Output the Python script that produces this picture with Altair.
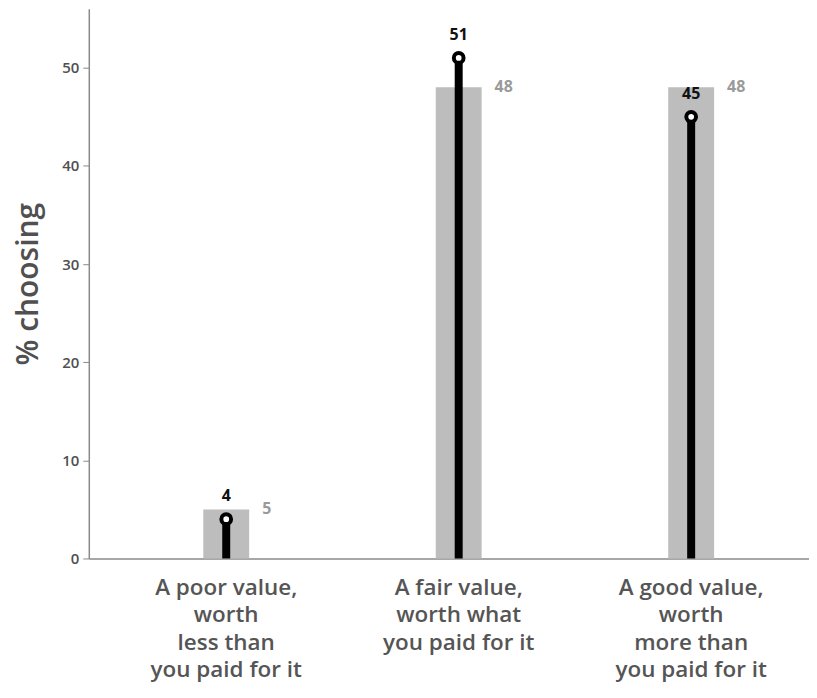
import altair as alt
import pandas as pd

categories = [
    "A poor value,|worth|less than|you paid for it",
    "A fair value,|worth what|you paid for it",
    "A good value,|worth|more than|you paid for it",
]
current = [4, 51, 45]
comparison = [5, 48, 48]

df = pd.DataFrame({"cat": categories, "cur": current, "cmp": comparison})

FONT = "Open Sans"

x = alt.X(
    "cat:N",
    sort=categories,
    scale=alt.Scale(paddingInner=0, paddingOuter=0.049, align=0.93),
    axis=alt.Axis(
        title=None,
        labelAngle=0,
        labelExpr="split(datum.value, '|')",
        labelFontSize=22.5,
        labelFontWeight=600,
        labelColor="#555555",
        labelLineHeight=27.5,
        labelPadding=18,
        labelBaseline="top",
        ticks=False,
        domainColor="#8a8a8a",
        domainWidth=1.5,
    ),
)

yscale = alt.Scale(domain=[0, 56], nice=False)
yaxis = alt.Axis(
    title="% choosing",
    values=[0, 10, 20, 30, 40, 50],
    grid=False,
    titleFontSize=30,
    titleFontWeight=600,
    titleColor="#505050",
    titlePadding=18,
    labelFontSize=15,
    labelFontWeight=600,
    labelColor="#505050",
    labelPadding=4,
    tickSize=6,
    tickColor="#8a8a8a",
    domainColor="#8a8a8a",
    domainWidth=1.5,
)

base = alt.Chart(df)

bars = base.mark_bar(size=46, color="#bdbdbd").encode(
    x=x, y=alt.Y("cmp:Q", scale=yscale, axis=yaxis)
)
rules = base.mark_rule(strokeWidth=8, color="black").encode(
    x=x, y=alt.Y("cur:Q", scale=yscale), y2=alt.datum(0)
)
circles = base.mark_circle(
    size=95, fill="white", stroke="black", strokeWidth=4, opacity=1
).encode(x=x, y=alt.Y("cur:Q", scale=yscale))
cur_labels = base.mark_text(
    fontSize=16, fontWeight="bold", color="#111111", dy=-23, font=FONT
).encode(x=x, y=alt.Y("cur:Q", scale=yscale), text="cur:Q")
cmp_labels = base.mark_text(
    fontSize=16, fontWeight="bold", color="#9a9a9a", align="left", dx=36,
    baseline="middle", font=FONT
).encode(x=x, y=alt.Y("cmp:Q", scale=yscale), text="cmp:Q")

chart = (
    alt.layer(bars, rules, circles, cur_labels, cmp_labels)
    .properties(width=722, height=551, padding={"left": 5, "top": 0, "right": 0, "bottom": 8})
    .configure(font=FONT)
    .configure_view(stroke=None)
)

chart.save("out.html", embed_options={"renderer": "svg", "actions": False})
